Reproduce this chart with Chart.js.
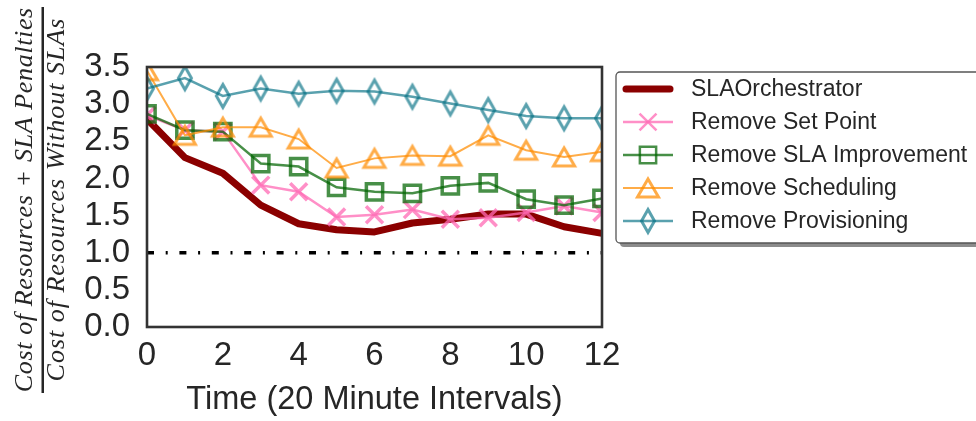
<!DOCTYPE html>
<html>
<head>
<meta charset="utf-8">
<script src="https://cdn.jsdelivr.net/npm/chart.js@4/dist/chart.umd.min.js"></script>
<style>
  html, body { margin: 0; padding: 0; background: #fff; }
  #wrap { width: 976px; height: 421px; }
</style>
</head>
<body>
<div id="wrap"><canvas id="c" width="976" height="421"></canvas></div>
<script>
// ---- data ----
const timeSteps = [0, 1, 2, 3, 4, 5, 6, 7, 8, 9, 10, 11, 12];
const slaOrchestrator   = [2.80, 2.28, 2.07, 1.64, 1.39, 1.31, 1.28, 1.40, 1.45, 1.52, 1.52, 1.35, 1.26];
const removeSetPoint    = [2.85, 2.65, 2.63, 1.91, 1.82, 1.48, 1.51, 1.58, 1.45, 1.47, 1.54, 1.63, 1.54];
const removeSLAImprove  = [2.87, 2.65, 2.63, 2.20, 2.16, 1.88, 1.82, 1.80, 1.90, 1.94, 1.72, 1.64, 1.73];
const removeScheduling  = [3.45, 2.58, 2.69, 2.69, 2.53, 2.14, 2.27, 2.31, 2.30, 2.58, 2.38, 2.29, 2.36];
const removeProvision   = [3.21, 3.35, 3.11, 3.21, 3.14, 3.18, 3.17, 3.10, 3.01, 2.92, 2.84, 2.81, 2.81];
const referenceLevel = 1.0;
const refLineX = [0, 12];
const seriesNames = ['SLAOrchestrator', 'Remove Set Point', 'Remove SLA Improvement', 'Remove Scheduling', 'Remove Provisioning'];
const yTicks = [0, 0.5, 1, 1.5, 2, 2.5, 3, 3.5];
const xTicks = [0, 2, 4, 6, 8, 10, 12];
const xTitle = 'Time (20 Minute Intervals)';
const yTitleNum = 'Cost of Resources + SLA Penalties';
const yTitleDen = 'Cost of Resources Without SLAs';

// ---- styling ----
const TXT = '#262626';
const FONT = "'Liberation Sans', Arial, sans-serif";
const SERIF = "'Liberation Serif', 'Times New Roman', serif";
const cRed = '#8b0000';
const cPink = 'rgba(255,105,180,0.75)';
const cGreen = 'rgba(0,100,0,0.72)';
const cOrange = 'rgba(255,140,0,0.72)';
const cTeal = 'rgba(0,110,130,0.65)';

function makeMarker(kind, color) {
  const cv = document.createElement('canvas');
  const w = 28, h = 30;
  cv.width = w; cv.height = h;
  const g = cv.getContext('2d');
  g.strokeStyle = color; g.lineWidth = 3; g.lineJoin = 'miter';
  const cx = w / 2, cy = h / 2;
  g.beginPath();
  if (kind === 'diamond') {
    g.moveTo(cx, cy - 11.5); g.lineTo(cx + 6.5, cy); g.lineTo(cx, cy + 11.5); g.lineTo(cx - 6.5, cy); g.closePath();
  } else if (kind === 'triangle') {
    g.moveTo(cx, cy - 9); g.lineTo(cx + 10.5, cy + 9); g.lineTo(cx - 10.5, cy + 9); g.closePath();
  }
  g.stroke();
  return cv;
}
const diamondImg = makeMarker('diamond', cTeal);
const triangleImg = makeMarker('triangle', cOrange);

const toXY = arr => timeSteps.map((t, i) => ({x: t, y: arr[i]}));

const datasets = [
  {label: seriesNames[0], data: toXY(slaOrchestrator), borderColor: cRed, borderWidth: 7, pointRadius: 0, order: 6, borderJoinStyle: 'round', borderCapStyle: 'round'},
  {label: seriesNames[1], data: toXY(removeSetPoint), borderColor: cPink, borderWidth: 2.5, pointStyle: 'crossRot', pointRadius: 12, pointBorderWidth: 3.5, pointBorderColor: cPink, pointBackgroundColor: 'rgba(0,0,0,0)', order: 5},
  {label: seriesNames[2], data: toXY(removeSLAImprove), borderColor: cGreen, borderWidth: 2.5, pointStyle: 'rect', pointRadius: 11.5, pointBorderWidth: 3.5, pointBorderColor: cGreen, pointBackgroundColor: 'rgba(0,0,0,0)', order: 4},
  {label: seriesNames[3], data: toXY(removeScheduling), borderColor: cOrange, borderWidth: 2, pointStyle: triangleImg, pointRadius: 12, order: 3},
  {label: seriesNames[4], data: toXY(removeProvision), borderColor: cTeal, borderWidth: 2.5, pointStyle: diamondImg, pointRadius: 12, order: 2},
  {label: 'ref', data: refLineX.map(x => ({x: x, y: referenceLevel})), borderColor: '#000', borderWidth: 3.5, borderDash: [7, 11.7, 2, 11.7], pointRadius: 0, order: 1}
];
datasets.forEach(d => { d.tension = 0; d.fill = false; d.clip = 1; d.pointHoverRadius = d.pointRadius; });

const framePlugin = {
  id: 'frame',
  afterDatasetsDraw(chart) {
    const {ctx, chartArea: a} = chart;
    ctx.save();
    ctx.strokeStyle = '#333';
    ctx.lineWidth = 2.6;
    ctx.strokeRect(a.left, a.top, a.right - a.left, a.bottom - a.top);
    ctx.restore();
  }
};

function fitSpaced(ctx, text, target) {
  ctx.letterSpacing = '0px';
  const w = ctx.measureText(text).width;
  const sp = Math.max(0, (target - w) / text.length);
  ctx.letterSpacing = sp.toFixed(2) + 'px';
  return sp;
}

const yTitlePlugin = {
  id: 'ytitle',
  afterDraw(chart) {
    const ctx = chart.ctx;
    ctx.save();
    ctx.translate(43, 200);
    ctx.rotate(-Math.PI / 2);
    ctx.fillStyle = TXT;
    ctx.font = `italic 26px ${SERIF}`;
    ctx.textAlign = 'center';
    ctx.textBaseline = 'alphabetic';
    let sp = fitSpaced(ctx, yTitleNum, 385);
    ctx.fillText(yTitleNum, sp / 2, -11);
    sp = fitSpaced(ctx, yTitleDen, 364);
    ctx.fillText(yTitleDen, sp / 2, 21);
    ctx.letterSpacing = '0px';
    ctx.fillRect(-193, -1.5, 386, 2.5);
    ctx.restore();
  }
};

const legendPlugin = {
  id: 'customLegend',
  afterDraw(chart) {
    const ctx = chart.ctx;
    ctx.save();
    const bx = 616, by = 72, bw = 400, bh = 171;
    ctx.fillStyle = '#8c8c8c';
    ctx.beginPath(); ctx.roundRect(bx + 4, by + 4, bw, bh, 4); ctx.fill();
    ctx.fillStyle = '#fff';
    ctx.strokeStyle = '#555';
    ctx.lineWidth = 1.3;
    ctx.beginPath(); ctx.roundRect(bx, by, bw, bh, 4); ctx.fill(); ctx.stroke();
    const rows = [89, 122, 155, 188, 221];
    ctx.font = `23px ${FONT}`;
    ctx.textBaseline = 'middle';
    for (let i = 0; i < 5; i++) {
      const ds = chart.data.datasets[i];
      const y = rows[i];
      ctx.strokeStyle = ds.borderColor;
      ctx.lineWidth = ds.borderWidth;
      ctx.lineCap = i === 0 ? 'round' : 'butt';
      ctx.beginPath(); ctx.moveTo(623 + (i === 0 ? 3 : 0), y); ctx.lineTo(673 - (i === 0 ? 3 : 0), y); ctx.stroke();
      if (i > 0) {
        const ps = ds.pointStyle;
        if (ps instanceof HTMLCanvasElement) {
          ctx.drawImage(ps, 648 - ps.width / 2, y - ps.height / 2);
        } else {
          ctx.fillStyle = 'rgba(0,0,0,0)';
          ctx.strokeStyle = ds.pointBorderColor;
          Chart.helpers.drawPoint(ctx, {pointStyle: ps, radius: ds.pointRadius, borderWidth: ds.pointBorderWidth, rotation: 0}, 648, y);
        }
      }
      ctx.fillStyle = TXT;
      ctx.textAlign = 'left';
      ctx.fillText(ds.label, 691, y + 1);
    }
    ctx.restore();
  }
};

new Chart(document.getElementById('c'), {
  type: 'line',
  data: {datasets},
  plugins: [framePlugin, yTitlePlugin, legendPlugin],
  options: {
    responsive: false,
    animation: false,
    events: [],
    layout: {padding: {left: 0, top: 67, right: 374, bottom: 0}},
    plugins: {legend: {display: false}, tooltip: {enabled: false}},
    scales: {
      x: {
        type: 'linear', min: 0, max: 12,
        afterFit(s) { s.height = 94; },
        afterBuildTicks(s) { s.ticks = xTicks.map(v => ({value: v})); },
        grid: {display: false, drawTicks: false},
        border: {display: false},
        ticks: {color: TXT, font: {family: FONT, size: 33}, padding: 9, autoSkip: false, maxRotation: 0},
        title: {display: true, text: xTitle, color: TXT, font: {family: FONT, size: 32.5}, padding: {top: 0, bottom: 1}}
      },
      y: {
        type: 'linear', min: 0, max: 3.5,
        afterFit(s) { s.width = 147; },
        afterBuildTicks(s) { s.ticks = yTicks.map(v => ({value: v})); },
        grid: {display: false, drawTicks: false},
        border: {display: false},
        ticks: {color: TXT, font: {family: FONT, size: 33}, padding: 17, autoSkip: false, callback: v => v.toFixed(1)}
      }
    }
  }
});
</script>
</body>
</html>
